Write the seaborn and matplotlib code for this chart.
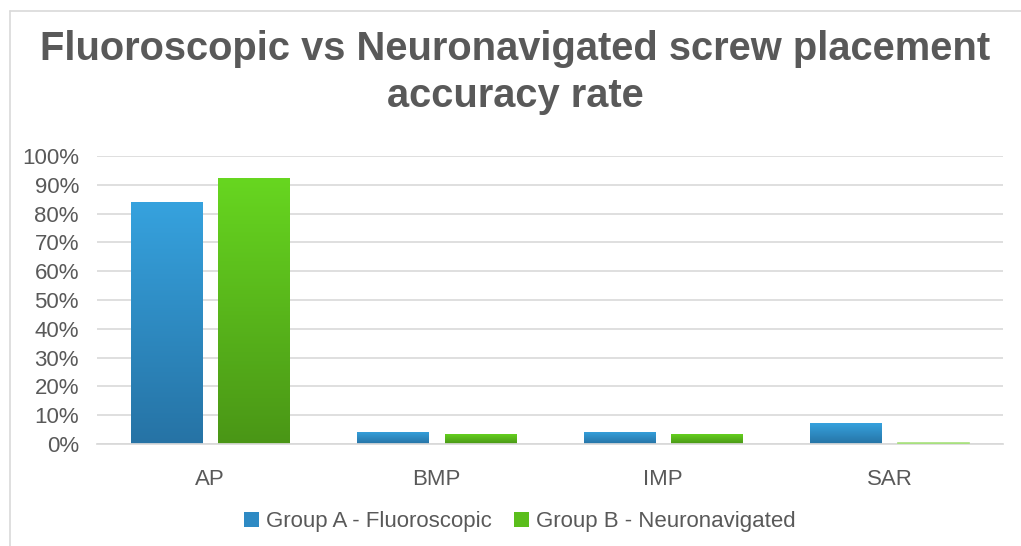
import numpy as np
import pandas as pd
import seaborn as sns
import matplotlib.pyplot as plt
from matplotlib.colors import LinearSegmentedColormap
from matplotlib.lines import Line2D
from matplotlib.patches import Patch
from matplotlib.ticker import PercentFormatter

categories = ["AP", "BMP", "IMP", "SAR"]
groupNames = ["Group A - Fluoroscopic", "Group B - Neuronavigated"]
groupA = [84.0, 4.2, 4.2, 7.2]
groupB = [92.3, 3.6, 3.6, 0.3]

titleLines = ["Fluoroscopic vs Neuronavigated screw placement", "accuracy rate"]
textColor = "#595959"
barTops = {groupNames[0]: "#36A2DE", groupNames[1]: "#67D620"}
barBottoms = {groupNames[0]: "#2673A5", groupNames[1]: "#4A9616"}
legendColors = {groupNames[0]: "#2E8AC4", groupNames[1]: "#5BBE1C"}

dataFrame = pd.DataFrame({
    "category": categories * 2,
    "group": [groupNames[0]] * len(categories) + [groupNames[1]] * len(categories),
    "value": groupA + groupB,
})

sns.set_theme(style="white")
plt.rcParams["font.family"] = ["Liberation Sans", "DejaVu Sans"]

W, H = 1021, 546
fig = plt.figure(figsize=(W / 100, H / 100), dpi=100)
ax = fig.add_axes([97 / W, 1 - 444 / H, 906 / W, 288 / H])

sns.barplot(
    data=dataFrame, x="category", y="value", hue="group",
    palette=barTops, saturation=1, width=0.77, gap=0.18, ax=ax, legend=False,
)

# vertical gradient fill for each bar, clipped to the bar patch
for container, name in zip(ax.containers, groupNames):
    cmap = LinearSegmentedColormap.from_list(name, [barBottoms[name], barTops[name]])
    for patch in container:
        x0, y0 = patch.get_x(), patch.get_y()
        w, h = patch.get_width(), patch.get_height()
        patch.set_edgecolor("none")
        if h < 1:
            # tiny bar: show it as a thin light sliver above the baseline
            patch.set_facecolor("#A8E07E")
            patch.set_edgecolor("#A8E07E")
            patch.set_linewidth(1.2)
            patch.set_zorder(3)
            continue
        grad = np.linspace(0, 1, 256).reshape(-1, 1)
        img = ax.imshow(grad, cmap=cmap, origin="lower", aspect="auto",
                        extent=[x0, x0 + w, y0, y0 + h], zorder=patch.get_zorder())
        img.set_clip_path(patch)

ax.set_xlim(-0.5, 3.5)
ax.set_ylim(0, 100)
ax.set_yticks(range(0, 101, 10))
ax.yaxis.set_major_formatter(PercentFormatter(decimals=0))
ax.grid(axis="y", color="#D9D9D9", linewidth=1.2)
ax.set_axisbelow(True)
for spine in ax.spines.values():
    spine.set_visible(False)
ax.spines["bottom"].set_visible(True)
ax.spines["bottom"].set_color("#D9D9D9")
ax.set_xlabel("")
ax.set_ylabel("")
ax.tick_params(axis="both", labelsize=16, labelcolor=textColor, length=0)
ax.tick_params(axis="y", pad=13)
ax.tick_params(axis="x", pad=18)

handles = [Patch(facecolor=legendColors[name], edgecolor="none") for name in groupNames]
fig.legend(handles, groupNames, loc="center", bbox_to_anchor=(520 / W, 1 - 522 / H),
           ncol=2, frameon=False, fontsize=16, labelcolor=textColor,
           handlelength=0.68, handleheight=0.68, handletextpad=0.3, columnspacing=1.0)

fig.text(515 / W, 1 - 60 / H, titleLines[0], ha="center", va="baseline",
         fontsize=28.7, fontweight="bold", color=textColor)
fig.text(515 / W, 1 - 107 / H, titleLines[1], ha="center", va="baseline",
         fontsize=28.7, fontweight="bold", color=textColor)

# chart frame: only top and left edges are visible in the crop
fig.add_artist(Line2D([10 / W, 1], [1 - 11 / H, 1 - 11 / H], transform=fig.transFigure,
                      color="#D9D9D9", linewidth=1.2))
fig.add_artist(Line2D([10 / W, 10 / W], [0, 1 - 11 / H], transform=fig.transFigure,
                      color="#D9D9D9", linewidth=1.2))

fig.savefig("out.png", dpi=100)
